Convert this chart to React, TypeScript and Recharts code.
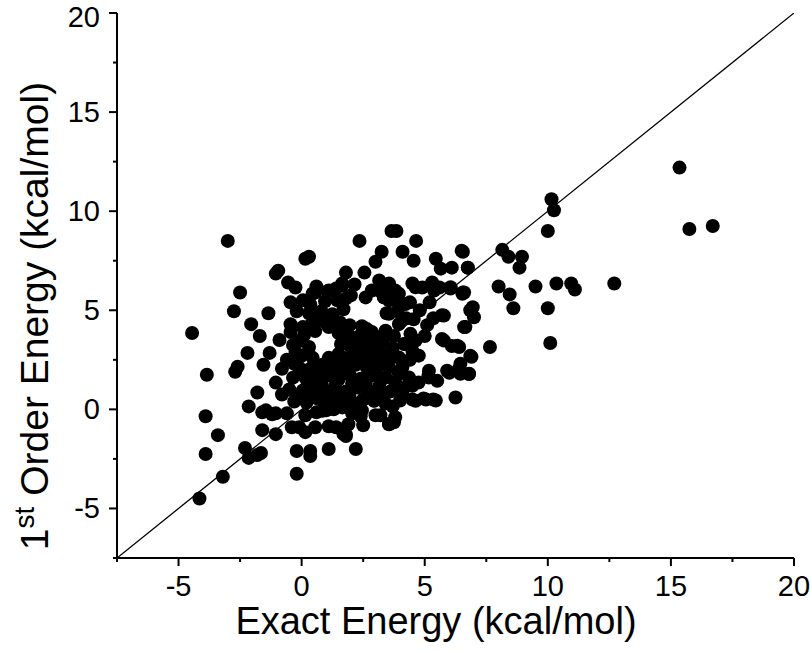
import React from 'react';
import { ScatterChart, Scatter, XAxis, YAxis } from 'recharts';

// axis ticks (majors every 5, minors in between)
const X_TICKS = [-7.5, -5, -2.5, 0, 2.5, 5, 7.5, 10, 12.5, 15, 17.5, 20];
const Y_TICKS = [-7.5, -5, -2.5, 0, 2.5, 5, 7.5, 10, 12.5, 15, 17.5, 20];
const DOMAIN: [number, number] = [-7.5, 20];

// y = x guide line
const DIAGONAL = [-7.5, 20];

// [exact, 1st order] pairs, kcal/mol
const LEFT_POINTS = [
  [-3.0, 8.5], [0.15, 7.6], [0.3, 7.7], [-0.95, 7.0], [-1.05, 6.85], [-0.55, 6.4],
  [-2.5, 5.9], [-2.75, 4.95], [-4.45, 3.85], [-0.45, 5.4], [-3.85, 1.75], [-3.9, -0.35],
  [-2.2, 2.85], [-2.6, 2.15], [-2.7, 1.9], [-1.55, 2.25], [-1.8, 0.85], [-2.15, 0.15],
  [-2.05, 4.3], [-1.35, 4.85], [-1.7, 3.7], [-0.8, 2.05], [-1.3, 2.85], [-1.05, 1.35],
  [-1.45, -0.05], [-1.05, -0.2], [-0.8, 0.75], [-0.45, 4.3], [-0.9, 3.5], [-0.6, 2.5],
];

const LOW_POINTS = [
  [-3.4, -1.3], [-3.9, -2.25], [-3.2, -3.4], [-4.15, -4.5], [-2.3, -1.95], [-2.15, -2.45],
  [-1.65, -2.2], [-1.8, -2.3], [-1.6, -1.05], [-1.05, -1.25], [-1.6, -0.15], [-1.2, -0.25],
  [-0.2, -2.1], [0.35, -2.1], [0.35, -2.35], [-0.2, -3.25], [1.1, -2.0], [1.7, -1.25],
  [-0.4, -0.9], [0.15, -1.15], [0.55, -0.9], [1.1, -0.85], [1.0, -0.05], [1.65, 0.1],
  [2.2, -2.0], [1.8, -1.35], [3.75, -0.65], [3.0, -0.3], [1.4, -0.9], [-0.1, -0.9],
  [3.55, -0.75], [3.2, -0.3],
];

const UPPER_POINTS = [
  [2.35, 8.5], [3.65, 9.0], [3.85, 9.0], [4.65, 8.5], [4.1, 7.95], [3.25, 7.95],
  [4.55, 7.5], [3.0, 7.45], [5.45, 7.6], [6.5, 8.0], [5.65, 7.1], [6.1, 7.15],
  [6.75, 7.15], [1.8, 6.9], [2.55, 6.9], [3.15, 6.5], [3.55, 6.35], [4.5, 6.35],
  [4.9, 6.15], [5.3, 6.4], [5.6, 6.15], [6.05, 6.1], [6.6, 5.9], [0.05, 5.5],
  [0.55, 5.9], [1.1, 6.0], [1.65, 6.35], [0.45, 5.85], [1.65, 6.25], [1.8, 5.6],
  [2.6, 5.65], [3.15, 6.0], [3.8, 6.0], [3.95, 5.3], [3.55, 5.5], [3.48, 6.16],
  [4.63, 6.16], [5.38, 6.0], [6.05, 6.16], [6.53, 5.83], [4.22, 5.32], [3.34, 5.66],
  [3.95, 5.83], [5.2, 5.4], [4.8, 5.0], [4.4, 5.4],
];

const MID_POINTS = [
  [5.7, 4.75], [6.85, 5.0], [6.6, 4.15], [4.55, 4.55], [5.1, 4.25], [5.7, 3.55],
  [6.1, 3.2], [6.4, 3.15], [6.85, 2.7], [5.15, 1.7], [6.0, 1.85], [6.45, 1.8],
  [4.75, 1.35], [4.35, 1.3], [4.1, 0.75], [6.25, 0.6], [4.5, 0.5], [5.05, 0.5],
  [5.45, 0.45], [3.8, -0.4], [4.0, 0.45], [4.95, 0.55], [5.35, 0.5], [3.55, 4.82],
  [3.95, 4.31], [3.41, 3.97], [4.42, 3.81], [4.63, 3.47], [4.16, 3.3], [5.78, 3.47],
  [6.32, 3.21], [4.76, 2.71], [3.95, 2.62], [3.55, 2.12], [4.09, 2.12], [5.17, 1.95],
  [5.91, 1.95], [6.39, 2.04], [4.36, 1.61], [5.78, 4.73], [3.41, 1.61], [3.95, 1.78],
  [4.5, 1.19], [4.09, 0.94], [4.63, 0.43], [5.17, 1.61], [5.51, 1.44], [6.8, 1.78],
  [4.4, 2.5], [4.5, 2.95], [5.0, 3.7], [5.35, 4.6],
];

const CORE_POINTS = [
  [-0.25, 6.15], [0.6, 6.2], [1.05, 5.95], [1.4, 6.1], [2.15, 6.3], [2.85, 6.0],
  [0.35, 5.3], [0.95, 5.45], [1.45, 5.5], [2.0, 5.75], [3.35, 5.65],
  [-0.2, 4.95], [0.3, 4.85], [0.8, 4.95], [1.25, 4.8], [1.7, 5.05], [3.45, 4.85], [3.9, 4.95],
  [0.6, 4.45], [1.0, 4.35], [1.55, 4.4], [1.95, 4.25], [2.45, 4.2], [4.25, 4.6],
  [0.05, 4.15], [0.55, 3.95], [1.1, 4.15], [-0.1, 3.45], [0.3, 3.15],
  [-0.45, 3.9], [0.1, 3.75], [1.5, 3.85], [1.95, 3.7], [2.4, 3.75], [2.85, 3.9], [3.75, 3.7],
  [-0.35, 3.25], [1.6, 3.3], [2.0, 3.15], [2.45, 3.3], [2.9, 3.2], [3.3, 3.4], [3.7, 3.1], [4.2, 3.3],
  [0.0, 2.7], [0.45, 2.6], [1.5, 2.8], [1.95, 2.65], [2.35, 2.85], [2.8, 2.7], [3.25, 2.8], [3.65, 2.6],
  [-0.1, 2.1], [0.35, 2.05], [0.85, 2.25], [1.3, 2.2], [1.75, 2.05], [2.2, 2.25], [2.65, 2.1], [3.1, 2.2],
  [0.15, 1.6], [-0.35, 1.6], [0.6, 1.55], [1.05, 1.7], [1.5, 1.5], [1.95, 1.75], [2.4, 1.55], [2.85, 1.7], [3.3, 1.55],
  [0.05, 0.95], [-0.5, 1.0], [0.45, 1.05], [0.9, 0.95], [1.35, 1.15], [1.8, 0.9], [2.25, 1.1], [2.7, 0.95], [3.15, 1.15], [3.6, 0.9],
  [-0.3, 0.4], [0.2, 0.35], [0.65, 0.55], [1.15, 0.4], [1.6, 0.55], [2.05, 0.35], [2.5, 0.5], [2.95, 0.45], [3.4, 0.3],
  [-0.6, -0.2], [0.15, -0.3], [0.6, -0.15], [2.05, -0.2], [2.4, -0.35], [1.9, -0.75], [2.5, -0.8],
  [2.1, 2.45], [2.6, 3.05], [1.6, 1.9], [2.3, 1.35], [1.4, 2.5], [0.84, -0.07], [2.94, 0.43],
  [1.79, -1.25], [3.55, -0.74],
  [0.8, 1.3], [1.25, 1.9], [1.7, 2.45], [2.55, 2.45], [3.0, 2.45], [3.45, 2.35], [1.1, 2.6],
  [0.7, 2.0], [0.25, 1.3], [2.05, 1.3], [2.6, 1.3], [3.0, 1.95], [3.8, 1.35], [2.7, 3.5],
  [2.2, 3.45], [3.05, 3.65], [2.65, 4.05], [1.75, 4.05], [0.4, 4.3], [-0.25, 2.9], [-0.3, 2.3],
  [0.9, 0.6], [1.4, 0.75], [2.75, 0.7], [3.2, 0.75], [0.4, 0.7], [-0.1, 0.7], [1.95, 0.6],
  [2.45, -0.05], [1.3, 0.0], [3.7, 0.15],
];

const RIGHT_POINTS = [
  [15.35, 12.2], [15.75, 9.1], [16.7, 9.25], [10.15, 10.6], [10.25, 10.05], [10.0, 9.0],
  [8.15, 8.05], [8.4, 7.7], [8.95, 7.7], [8.85, 7.15], [6.55, 7.95], [6.75, 7.15],
  [6.55, 5.9], [8.0, 6.2], [8.45, 5.8], [8.6, 5.1], [9.5, 6.2], [10.35, 6.35],
  [10.95, 6.35], [11.1, 6.05], [12.7, 6.35], [10.0, 5.1], [10.1, 3.35], [7.65, 3.15],
  [6.95, 5.15], [7.0, 4.65], [6.65, 4.15], [6.9, 2.65], [6.8, 1.8], [6.45, 2.3],
];

const FONT = '"Liberation Sans", Arial, sans-serif';

const points = [...LEFT_POINTS, ...LOW_POINTS, ...UPPER_POINTS, ...MID_POINTS, ...CORE_POINTS, ...RIGHT_POINTS]
  .map(([x, y]) => ({ x, y }));
const diagonal = DIAGONAL.map((v) => ({ x: v, y: v }));

const XTick = ({ x, y, payload }: any) => {
  const major = payload.value % 5 === 0;
  return (
    <g>
      <line x1={x} x2={x} y1={y} y2={y + (major ? 8 : 4)} stroke="#000" strokeWidth={2} />
      {major && (
        <text x={x} y={y + 38} textAnchor="middle" fontSize={29} fontFamily={FONT} fill="#000">
          {String(payload.value)}
        </text>
      )}
    </g>
  );
};

const YTick = ({ x, y, payload }: any) => {
  const major = payload.value % 5 === 0;
  // keep the top label inside the picture
  const baseline = Math.max(y + 10, 27);
  return (
    <g>
      <line x1={x} x2={x - (major ? 8 : 4)} y1={y} y2={y} stroke="#000" strokeWidth={2} />
      {major && (
        <text x={x - 17} y={baseline} textAnchor="end" fontSize={29} fontFamily={FONT} fill="#000">
          {String(payload.value)}
        </text>
      )}
    </g>
  );
};

const XTitle = () => (
  <text x={436} y={634} textAnchor="middle" fontSize={38} fontFamily={FONT} fill="#000">
    Exact Energy (kcal/mol)
  </text>
);

const YTitle = () => (
  <text transform="translate(48, 316) rotate(-90)" textAnchor="middle" fontSize={39} fontFamily={FONT} fill="#000">
    1<tspan fontSize={28} dy={-14}>st</tspan>
    <tspan dy={14}> Order Energy (kcal/mol)</tspan>
  </text>
);

const Dot = (props: any) => <circle cx={props.cx} cy={props.cy} r={7} fill="#000" />;

export default function App() {
  return (
    <div style={{ position: 'absolute', left: 0, top: 0, background: '#fff' }}>
      <ScatterChart width={810} height={651} margin={{ top: 13, right: 16, bottom: 0, left: 0 }}>
        <XAxis
          type="number"
          dataKey="x"
          domain={DOMAIN}
          ticks={X_TICKS}
          interval={0}
          allowDataOverflow
          height={93}
          tickSize={0}
          tickMargin={0}
          tickLine={false}
          tick={<XTick />}
          axisLine={{ stroke: '#000', strokeWidth: 2 }}
          label={<XTitle />}
        />
        <YAxis
          type="number"
          dataKey="y"
          domain={DOMAIN}
          ticks={Y_TICKS}
          interval={0}
          allowDataOverflow
          width={117}
          tickSize={0}
          tickMargin={0}
          tickLine={false}
          tick={<YTick />}
          axisLine={{ stroke: '#000', strokeWidth: 2 }}
          label={<YTitle />}
        />
        <Scatter
          data={diagonal}
          line={{ stroke: '#000', strokeWidth: 1.3 }}
          shape={() => null}
          isAnimationActive={false}
        />
        <Scatter data={points} shape={<Dot />} isAnimationActive={false} />
      </ScatterChart>
    </div>
  );
}
